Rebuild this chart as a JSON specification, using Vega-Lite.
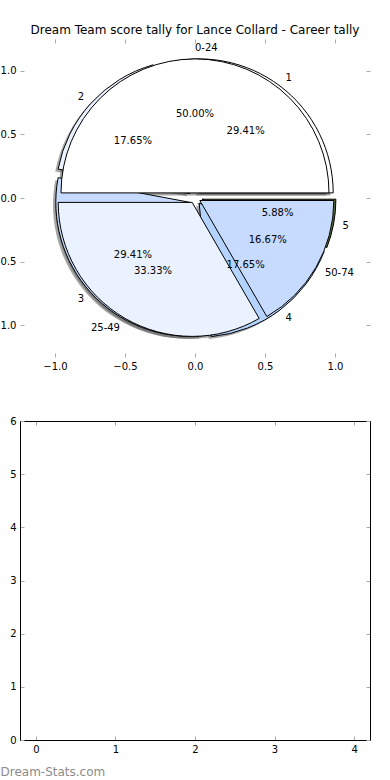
{
  "$schema": "https://vega.github.io/schema/vega-lite/v6.json",
  "width": 350,
  "height": 701,
  "autosize": {"type": "none"},
  "padding": {"left": 20, "top": 39, "right": 20, "bottom": 40},
  "background": "white",
  "title": {"text": "Dream Team score tally for Lance Collard - Career tally", "frame": "group", "anchor": "middle", "offset": 2, "font": "DejaVu Sans", "fontSize": 12, "fontWeight": "normal", "color": "#000000"},
  "datasets": {
    "A": [
      {"i": 1, "label": "1", "share": 0.2941},
      {"i": 2, "label": "2", "share": 0.1765},
      {"i": 3, "label": "3", "share": 0.2941},
      {"i": 4, "label": "4", "share": 0.1765},
      {"i": 5, "label": "5", "share": 0.0588}
    ],
    "B": [
      {"i": 1, "label": "0-24", "share": 0.5},
      {"i": 2, "label": "25-49", "share": 0.3333},
      {"i": 3, "label": "50-74", "share": 0.1667}
    ]
  },
  "layer": [
    {
      "encoding": {
        "x": {"datum": 0, "type": "quantitative", "scale": {"domain": [-1.25, 1.25], "nice": false, "zero": false}, "axis": null},
        "y": {"datum": 0, "type": "quantitative", "scale": {"domain": [-1.25, 1.25], "range": [318, 0], "nice": false, "zero": false}, "axis": null},
        "theta": {"field": "share", "type": "quantitative", "stack": "normalize", "scale": {"domain": [0, 1], "range": [1.5708, -4.71239]}},
        "order": {"field": "i", "type": "quantitative"}
      },
      "layer": [
        {"data": {"name": "A"}, "mark": {"type": "arc", "radius": 134, "fill": "#4d4d4d", "strokeWidth": 0, "xOffset": 1.4, "yOffset": -2.6},
         "encoding": {
           "x": {"datum": 0, "type": "quantitative", "scale": {"domain": [-1.25, 1.25], "nice": false, "zero": false}, "axis": {"orient": "bottom", "offset": -383, "values": [-1, -0.5, 0, 0.5, 1], "format": ".1f", "domain": false, "title": null}},
           "y": {"datum": 0, "type": "quantitative", "scale": {"domain": [-1.25, 1.25], "range": [318, 0], "nice": false, "zero": false}, "axis": {"orient": "left", "values": [-1, -0.5, 0, 0.5, 1], "format": ".1f", "domain": false, "title": null}},
           "fillOpacity": {"condition": {"test": "datum.label === '1'", "value": 0.5}, "value": 0}}},
        {"data": {"name": "A"}, "mark": {"type": "arc", "radius": 134, "fill": "#4d4d4d", "strokeWidth": 0, "xOffset": -8.0, "yOffset": -1.8},
         "encoding": {"fillOpacity": {"condition": {"test": "datum.label === '2'", "value": 0.5}, "value": 0}}},
        {"data": {"name": "A"}, "mark": {"type": "arc", "radius": 134, "fill": "#4d4d4d", "strokeWidth": 0, "xOffset": -8.0, "yOffset": 6.8},
         "encoding": {"fillOpacity": {"condition": {"test": "datum.label === '3'", "value": 0.5}, "value": 0}}},
        {"data": {"name": "A"}, "mark": {"type": "arc", "radius": 134, "fill": "#4d4d4d", "strokeWidth": 0, "xOffset": 1.4, "yOffset": 7.6},
         "encoding": {"fillOpacity": {"condition": {"test": "datum.label === '4'", "value": 0.5}, "value": 0}}},
        {"data": {"name": "A"}, "mark": {"type": "arc", "radius": 134, "fill": "#4d4d4d", "strokeWidth": 0, "xOffset": 4.1, "yOffset": 3.7},
         "encoding": {"fillOpacity": {"condition": {"test": "datum.label === '5'", "value": 0.5}, "value": 0}}},
        {"data": {"name": "B"}, "mark": {"type": "arc", "radius": 134, "fill": "#4d4d4d", "strokeWidth": 0, "xOffset": -2.8, "yOffset": -2.6},
         "encoding": {"fillOpacity": {"condition": {"test": "datum.label === '0-24'", "value": 0.5}, "value": 0}}},
        {"data": {"name": "B"}, "mark": {"type": "arc", "radius": 134, "fill": "#4d4d4d", "strokeWidth": 0, "xOffset": -5.6, "yOffset": 6.9},
         "encoding": {"fillOpacity": {"condition": {"test": "datum.label === '25-49'", "value": 0.5}, "value": 0}}},
        {"data": {"name": "B"}, "mark": {"type": "arc", "radius": 134, "fill": "#4d4d4d", "strokeWidth": 0, "xOffset": 2.05, "yOffset": 5.0},
         "encoding": {"fillOpacity": {"condition": {"test": "datum.label === '50-74'", "value": 0.5}, "value": 0}}},

        {"data": {"name": "A"}, "mark": {"type": "arc", "radius": 134, "fill": "#ffffff", "stroke": "#000000", "strokeWidth": 1, "xOffset": 4.2, "yOffset": -5.1},
         "encoding": {"fillOpacity": {"condition": {"test": "datum.label === '1'", "value": 1}, "value": 0}, "strokeOpacity": {"condition": {"test": "datum.label === '1'", "value": 1}, "value": 0}}},
        {"data": {"name": "A"}, "mark": {"type": "arc", "radius": 134, "fill": "#eaf1ff", "stroke": "#000000", "strokeWidth": 1, "xOffset": -5.2, "yOffset": -4.3},
         "encoding": {"fillOpacity": {"condition": {"test": "datum.label === '2'", "value": 1}, "value": 0}, "strokeOpacity": {"condition": {"test": "datum.label === '2'", "value": 1}, "value": 0}}},
        {"data": {"name": "A"}, "mark": {"type": "arc", "radius": 134, "fill": "#c6dbff", "stroke": "#000000", "strokeWidth": 1, "xOffset": -5.2, "yOffset": 4.3},
         "encoding": {"fillOpacity": {"condition": {"test": "datum.label === '3'", "value": 1}, "value": 0}, "strokeOpacity": {"condition": {"test": "datum.label === '3'", "value": 1}, "value": 0}}},
        {"data": {"name": "A"}, "mark": {"type": "arc", "radius": 134, "fill": "#b4d4ff", "stroke": "#000000", "strokeWidth": 1, "xOffset": 4.2, "yOffset": 5.1},
         "encoding": {"fillOpacity": {"condition": {"test": "datum.label === '4'", "value": 1}, "value": 0}, "strokeOpacity": {"condition": {"test": "datum.label === '4'", "value": 1}, "value": 0}}},
        {"data": {"name": "A"}, "mark": {"type": "arc", "radius": 134, "fill": "#556b2f", "stroke": "#000000", "strokeWidth": 1, "xOffset": 6.9, "yOffset": 1.2},
         "encoding": {"fillOpacity": {"condition": {"test": "datum.label === '5'", "value": 1}, "value": 0}, "strokeOpacity": {"condition": {"test": "datum.label === '5'", "value": 1}, "value": 0}}},
        {"data": {"name": "B"}, "mark": {"type": "arc", "radius": 134, "fill": "#ffffff", "stroke": "#000000", "strokeWidth": 1, "xOffset": 0, "yOffset": -5.1},
         "encoding": {"fillOpacity": {"condition": {"test": "datum.label === '0-24'", "value": 1}, "value": 0}, "strokeOpacity": {"condition": {"test": "datum.label === '0-24'", "value": 1}, "value": 0}}},
        {"data": {"name": "B"}, "mark": {"type": "arc", "radius": 134, "fill": "#eaf1ff", "stroke": "#000000", "strokeWidth": 1, "xOffset": -2.8, "yOffset": 4.4},
         "encoding": {"fillOpacity": {"condition": {"test": "datum.label === '25-49'", "value": 1}, "value": 0}, "strokeOpacity": {"condition": {"test": "datum.label === '25-49'", "value": 1}, "value": 0}}},
        {"data": {"name": "B"}, "mark": {"type": "arc", "radius": 134, "fill": "#c6dbff", "stroke": "#000000", "strokeWidth": 1, "xOffset": 4.85, "yOffset": 2.5},
         "encoding": {"fillOpacity": {"condition": {"test": "datum.label === '50-74'", "value": 1}, "value": 0}, "strokeOpacity": {"condition": {"test": "datum.label === '50-74'", "value": 1}, "value": 0}}},

        {"data": {"name": "A"}, "mark": {"type": "text", "radius": 150, "align": "left", "baseline": "middle", "font": "DejaVu Sans", "fontSize": 10, "color": "#000000"},
         "encoding": {"text": {"condition": {"test": "indexof(['1','4','5'], datum.label) >= 0", "field": "label", "type": "nominal"}, "value": ""}}},
        {"data": {"name": "A"}, "mark": {"type": "text", "radius": 150, "align": "right", "baseline": "middle", "font": "DejaVu Sans", "fontSize": 10, "color": "#000000"},
         "encoding": {"text": {"condition": {"test": "indexof(['2','3'], datum.label) >= 0", "field": "label", "type": "nominal"}, "value": ""}}},
        {"data": {"name": "B"}, "mark": {"type": "text", "radius": 150, "align": "left", "baseline": "middle", "font": "DejaVu Sans", "fontSize": 10, "color": "#000000"},
         "encoding": {"text": {"condition": {"test": "indexof(['0-24','50-74'], datum.label) >= 0", "field": "label", "type": "nominal"}, "value": ""}}},
        {"data": {"name": "B"}, "mark": {"type": "text", "radius": 150, "align": "right", "baseline": "middle", "font": "DejaVu Sans", "fontSize": 10, "color": "#000000"},
         "encoding": {"text": {"condition": {"test": "datum.label === '25-49'", "field": "label", "type": "nominal"}, "value": ""}}},
        {"data": {"name": "A"}, "mark": {"type": "text", "radius": 84, "align": "center", "baseline": "middle", "font": "DejaVu Sans", "fontSize": 10, "color": "#000000"},
         "encoding": {"text": {"field": "share", "type": "quantitative", "format": ".2%"}}},
        {"data": {"name": "B"}, "mark": {"type": "text", "radius": 84, "align": "center", "baseline": "middle", "font": "DejaVu Sans", "fontSize": 10, "color": "#000000"},
         "encoding": {
           "x": {"datum": 0, "type": "quantitative", "scale": {"domain": [-1.25, 1.25], "nice": false, "zero": false}, "axis": {"orient": "top", "values": [-1, -0.5, 0, 0.5, 1], "labels": false, "domain": false, "title": null}},
           "y": {"datum": 0, "type": "quantitative", "scale": {"domain": [-1.25, 1.25], "range": [318, 0], "nice": false, "zero": false}, "axis": {"orient": "right", "values": [-1, -0.5, 0, 0.5, 1], "labels": false, "domain": false, "title": null}},
           "text": {"field": "share", "type": "quantitative", "format": ".2%"}}}
      ],
      "resolve": {"axis": {"x": "independent", "y": "independent"}}
    },
    {
      "layer": [
        {"data": {"values": []}, "mark": {"type": "point"},
         "encoding": {
           "x": {"field": "x", "type": "quantitative", "scale": {"domain": [-0.2, 4.2], "nice": false, "zero": false}, "axis": {"orient": "bottom", "values": [0, 1, 2, 3, 4], "format": "d", "title": "Dream-Stats.com", "titleX": -20, "titleY": 35, "titleAlign": "left", "titleAnchor": "start", "titleBaseline": "alphabetic", "titleFont": "DejaVu Sans", "titleFontSize": 12, "titleFontWeight": "normal", "titleColor": "#8c8c8c"}},
           "y": {"field": "y", "type": "quantitative", "scale": {"domain": [0, 6], "range": [701, 382], "nice": false, "zero": false}, "axis": {"orient": "left", "values": [0, 1, 2, 3, 4, 5, 6], "format": "d", "title": null}}}},
        {"data": {"values": []}, "mark": {"type": "point"},
         "encoding": {
           "x": {"field": "x", "type": "quantitative", "scale": {"domain": [-0.2, 4.2], "nice": false, "zero": false}, "axis": {"orient": "top", "offset": -382, "values": [0, 1, 2, 3, 4], "labels": false, "title": null}},
           "y": {"field": "y", "type": "quantitative", "scale": {"domain": [0, 6], "range": [701, 382], "nice": false, "zero": false}, "axis": {"orient": "right", "values": [0, 1, 2, 3, 4, 5, 6], "labels": false, "title": null}}}}
      ],
      "resolve": {"axis": {"x": "independent", "y": "independent"}}
    }
  ],
  "resolve": {"scale": {"x": "independent", "y": "independent"}, "axis": {"x": "independent", "y": "independent"}},
  "config": {
    "view": {"stroke": null},
    "axis": {"grid": false, "labelFont": "DejaVu Sans", "labelFontSize": 10, "labelColor": "#000000", "tickColor": "#aaaaaa", "tickSize": -4, "tickWidth": 1, "labelPadding": 8, "domainColor": "#000000", "domainWidth": 1, "labelOverlap": false, "labelFlush": false}
  }
}
